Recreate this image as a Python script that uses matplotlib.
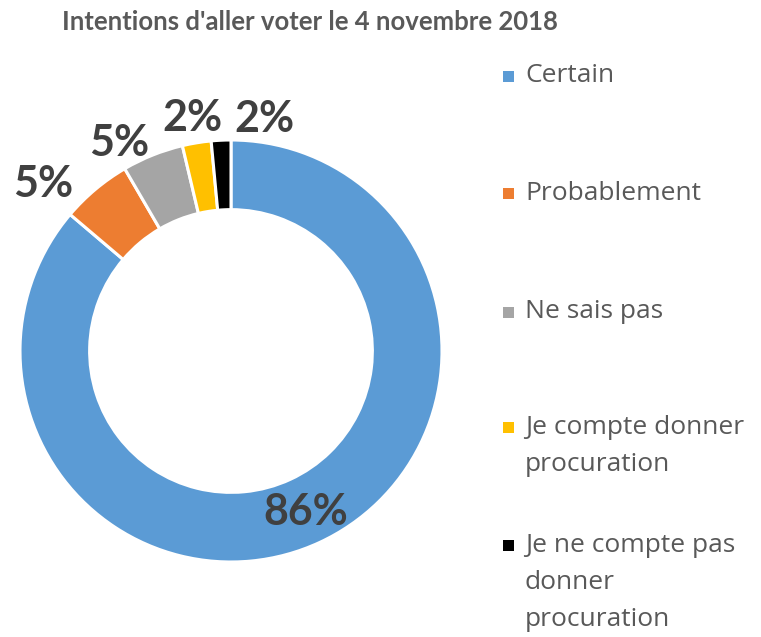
import numpy as np
import matplotlib
matplotlib.use("Agg")
import matplotlib.pyplot as plt
from matplotlib.patches import Rectangle

# ---- data ----
title = "Intentions d'aller voter le 4 novembre 2018"
categories = ["Certain", "Probablement", "Ne sais pas",
              "Je compte donner\nprocuration",
              "Je ne compte pas\ndonner\nprocuration"]
values = [86.2, 5.4, 4.7, 2.2, 1.5]
colors = ["#5B9BD5", "#ED7D31", "#A5A5A5", "#FFC000", "#000000"]

# ---- layout ----
W, H, DPI = 761, 637, 100
fig = plt.figure(figsize=(W / DPI, H / DPI), dpi=DPI)
fig.patch.set_facecolor("white")

cx, cy, R_px, half = 231, 351, 211, 225
ax = fig.add_axes([(cx - half) / W, (H - cy - half) / H, 2 * half / W, 2 * half / H])

wedges, _ = ax.pie(values, colors=colors, startangle=90, counterclock=False,
                   radius=1.0,
                   wedgeprops=dict(width=0.33, edgecolor="white", linewidth=2.2))
lim = half / R_px
ax.set_xlim(-lim, lim)
ax.set_ylim(-lim, lim)
ax.set_aspect("equal")
ax.axis("off")

# data labels: (radius, angle nudge in degrees)
label_place = [(0.84, 0.0), (1.19, 8.5), (1.12, 6.5), (1.12, 0.0), (1.11, -11.0)]
lab_font = dict(family=["Lato", "DejaVu Sans"], weight="bold", size=31, color="#404040")
for w, v, (r, dth) in zip(wedges, values, label_place):
    th = np.deg2rad((w.theta1 + w.theta2) / 2 + dth)
    ax.text(r * np.cos(th), r * np.sin(th), f"{v:.0f}%", ha="center", va="center",
            **lab_font)

# title
fig.text(310 / W, 1 - 22 / H, title, ha="center", va="center",
         family=["Lato", "DejaVu Sans"], weight="bold", size=18.5, color="#595959")

# legend (manual, markers aligned with first text line)
leg_y = [76, 193, 312, 427, 545]
line_h = 37.5
for lab, col, y in zip(categories, colors, leg_y):
    fig.patches.append(Rectangle(((503) / W, 1 - (y + 5.5) / H), 11 / W, 11 / H,
                                 transform=fig.transFigure, facecolor=col,
                                 edgecolor="none"))
    for i, line in enumerate(lab.split("\n")):
        fig.text(525 / W, 1 - (y + i * line_h) / H, line, ha="left", va="center",
                 family=["Open Sans", "DejaVu Sans"], size=19, color="#595959")

fig.savefig("out.png", dpi=DPI, facecolor="white")
